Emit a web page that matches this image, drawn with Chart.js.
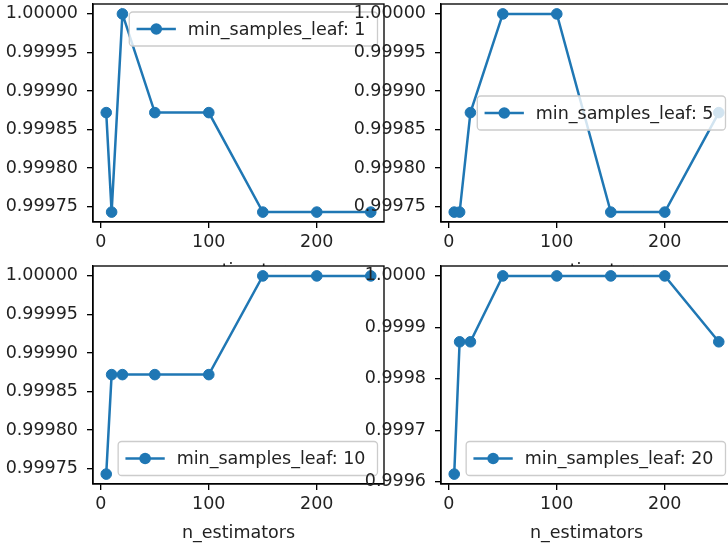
<!DOCTYPE html>
<html>
<head>
<meta charset="utf-8">
<script src="https://cdn.jsdelivr.net/npm/chart.js@4"></script>
<style>
  html, body { margin: 0; padding: 0; background: #fff; }
  #fig { position: relative; width: 728px; height: 545px; overflow: hidden; background: #fff; }
  .ax { position: absolute; }
</style>
</head>
<body>
<div id="fig"></div>
<script>
// values
const nEstimators = [5, 10, 20, 50, 100, 150, 200, 250];
const leaf1  = [0.999872, 0.999743, 1.0, 0.999872, 0.999872, 0.999743, 0.999743, 0.999743];
const leaf5  = [0.999743, 0.999743, 0.999872, 1.0, 1.0, 0.999743, 0.999743, 0.999872];
const leaf10 = [0.999743, 0.999872, 0.999872, 0.999872, 0.999872, 1.0, 1.0, 1.0];
const leaf20 = [0.999615, 0.999872, 0.999872, 1.0, 1.0, 1.0, 1.0, 0.999872];
const labels = ['min_samples_leaf: 1', 'min_samples_leaf: 5', 'min_samples_leaf: 10', 'min_samples_leaf: 20'];
const xTicks = [0, 100, 200];
const yTicksFine = [0.99975, 0.99980, 0.99985, 0.99990, 0.99995, 1.00000];
const yTicksCoarse = [0.9996, 0.9997, 0.9998, 0.9999, 1.0000];

const BLUE = '#1f77b4';
const FONT_FAMILY = 'DejaVu Sans';
const FONT_SIZE = 17.5;
const TXT = '#222';

// axes panel: white face + black frame like matplotlib
const axesFrame = {
  id: 'axesFrame',
  beforeDraw(chart) {
    const a = chart.chartArea, ctx = chart.ctx;
    ctx.save();
    ctx.fillStyle = '#fff';
    ctx.fillRect(a.left, a.top, a.right - a.left, a.bottom - a.top);
    ctx.restore();
  },
  afterDatasetsDraw(chart) {
    const a = chart.chartArea, ctx = chart.ctx;
    ctx.save();
    ctx.strokeStyle = '#000';
    ctx.lineWidth = 1.33;
    ctx.strokeRect(a.left, a.top, a.right - a.left, a.bottom - a.top);
    ctx.restore();
  }
};

// matplotlib style legend box inside the axes
const mplLegend = {
  id: 'mplLegend',
  afterDraw(chart, args, opts) {
    const ctx = chart.ctx, a = chart.chartArea;
    const ds = chart.data.datasets[0];
    ctx.save();
    ctx.font = FONT_SIZE + 'px "' + FONT_FAMILY + '"';
    const tw = ctx.measureText(ds.label).width;
    const w = 58.5 + tw + 12, h = 34;
    const x = a.right - 6.5 - w;
    let y;
    if (opts.loc === 'upper right') y = a.top + 8;
    else if (opts.loc === 'center right') y = (a.top + a.bottom) / 2 - h / 2;
    else y = a.bottom - 8.5 - h;
    ctx.beginPath();
    ctx.roundRect(x, y, w, h, 3.5);
    ctx.fillStyle = 'rgba(255,255,255,0.8)';
    ctx.fill();
    ctx.strokeStyle = '#cccccc';
    ctx.lineWidth = 1.3;
    ctx.stroke();
    const cy = y + h / 2;
    ctx.strokeStyle = BLUE;
    ctx.lineWidth = 2.5;
    ctx.beginPath(); ctx.moveTo(x + 7.3, cy); ctx.lineTo(x + 46.6, cy); ctx.stroke();
    ctx.fillStyle = BLUE;
    ctx.beginPath(); ctx.arc(x + 27, cy, 5.8, 0, Math.PI * 2); ctx.fill();
    ctx.fillStyle = TXT;
    ctx.textBaseline = 'middle';
    ctx.fillText(ds.label, x + 58.5, cy + 1);
    ctx.restore();
  }
};

const panels = [
  { data: leaf1,  label: labels[0], left: 93,  top: 4,   yTicks: yTicksFine,   digits: 5, loc: 'upper right' },
  { data: leaf5,  label: labels[1], left: 441, top: 4,   yTicks: yTicksFine,   digits: 5, loc: 'center right' },
  { data: leaf10, label: labels[2], left: 93,  top: 266, yTicks: yTicksFine,   digits: 5, loc: 'lower right' },
  { data: leaf20, label: labels[3], left: 441, top: 266, yTicks: yTicksCoarse, digits: 4, loc: 'lower right' }
];

const AX_W = 291, AX_H = 218, Y_AX_W = 93, X_AX_H = 62, PAD_TOP = 10, PAD_RIGHT = 20;
const xMin = -7.25, xMax = 262.25;

const fig = document.getElementById('fig');

panels.forEach(p => {
  const wrap = document.createElement('div');
  wrap.className = 'ax';
  wrap.style.left = (p.left - Y_AX_W) + 'px';
  wrap.style.top = (p.top - PAD_TOP) + 'px';
  const cv = document.createElement('canvas');
  cv.width = Y_AX_W + AX_W + PAD_RIGHT;
  cv.height = PAD_TOP + AX_H + X_AX_H;
  wrap.appendChild(cv);
  fig.appendChild(wrap);

  const lo = Math.min(...p.data), hi = Math.max(...p.data);
  const m = (hi - lo) * 0.05;
  const font = { family: FONT_FAMILY, size: FONT_SIZE };

  new Chart(cv.getContext('2d'), {
    type: 'line',
    data: {
      datasets: [{
        label: p.label,
        data: nEstimators.map((x, i) => ({ x, y: p.data[i] })),
        borderColor: BLUE,
        backgroundColor: BLUE,
        borderWidth: 2.5,
        pointRadius: 5.3,
        pointBorderWidth: 1,
        pointBackgroundColor: BLUE,
        pointBorderColor: BLUE,
        tension: 0
      }]
    },
    options: {
      responsive: false,
      devicePixelRatio: 1,
      animation: false,
      layout: { padding: { top: PAD_TOP, right: PAD_RIGHT, left: 0, bottom: 0 } },
      plugins: {
        legend: { display: false },
        tooltip: { enabled: false },
        mplLegend: { loc: p.loc }
      },
      scales: {
        x: {
          type: 'linear',
          min: xMin, max: xMax,
          afterBuildTicks: s => { s.ticks = xTicks.map(v => ({ value: v })); },
          afterFit: s => { s.height = X_AX_H; s.paddingLeft = 0; s.paddingRight = 0; },
          ticks: { font, color: TXT, padding: 4, maxRotation: 0, autoSkip: false },
          grid: { drawOnChartArea: false, drawTicks: true, tickLength: 6, color: '#000', lineWidth: 1.33 },
          border: { color: '#000', width: 1.33 },
          title: { display: true, text: 'n_estimators', font, color: TXT, padding: { top: 0, bottom: 2.5 } }
        },
        y: {
          type: 'linear',
          min: lo - m, max: hi + m,
          afterBuildTicks: s => { s.ticks = p.yTicks.map(v => ({ value: v })); },
          afterFit: s => { s.width = Y_AX_W; s.paddingTop = 0; s.paddingBottom = 0; },
          ticks: { font, color: TXT, padding: 9, autoSkip: false, callback: v => v.toFixed(p.digits) },
          grid: { drawOnChartArea: false, drawTicks: true, tickLength: 6, color: '#000', lineWidth: 1.33 },
          border: { color: '#000', width: 1.33 }
        }
      }
    },
    plugins: [axesFrame, mplLegend]
  });
});
</script>
</body>
</html>
